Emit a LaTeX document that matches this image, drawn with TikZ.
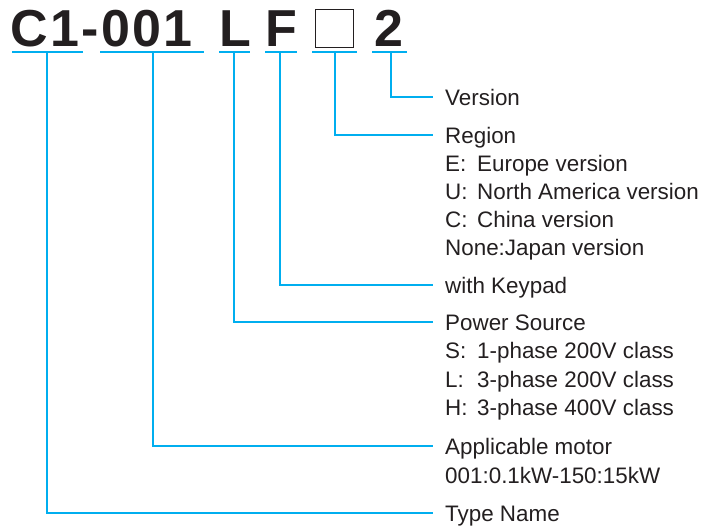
\documentclass[tikz,border=0pt]{standalone}
\usepackage{fontspec}
\setmainfont{Liberation Sans}
\definecolor{ink}{HTML}{231F20}
\definecolor{cyanline}{HTML}{00AEEF}
\newcommand{\tag}[1]{\makebox[32pt][l]{#1}}
\begin{document}
\begin{tikzpicture}[x=1pt,y=-1pt,
  code/.style={anchor=base,inner sep=0pt,text=ink,font=\fontsize{52}{52}\selectfont\bfseries},
  head/.style={anchor=west,inner xsep=12pt,inner ysep=0pt,text height=16pt,text depth=0pt,text=ink,font=\fontsize{22.4}{26}\selectfont},
  item/.style={anchor=base west,inner sep=0pt,text=ink,font=\fontsize{22.4}{26}\selectfont},
  link/.style={draw=cyanline,line width=2pt}]
\useasboundingbox (0,0) rectangle (703,527);
% code letters
\node[code,anchor=base west] (c1) at (10.5,47) {\addfontfeature{LetterSpace=4.5}C1-001};
\node[code] (cL) at (235.5,47) {L};
\node[code] (cF) at (281.5,47) {F};
\draw[ink,line width=1.8pt] (315.5,9.5) rectangle (353.5,47.5);
\node[code] (c2) at (389,47) {2};
% underline ends
\coordinate (a1) at (12,52.5);  \coordinate (b1) at (83,52.5);
\coordinate (a2) at (100,52.5); \coordinate (b2) at (204,52.5);
\coordinate (a3) at (219,52.5); \coordinate (b3) at (250,52.5);
\coordinate (a4) at (265,52.5); \coordinate (b4) at (297,52.5);
\coordinate (a5) at (312,52.5); \coordinate (b5) at (357,52.5);
\coordinate (a6) at (372,52.5); \coordinate (b6) at (407,52.5);
\coordinate (m1) at (47,52.5);
\coordinate (m2) at (153,52.5);
\coordinate (m3) at (234,52.5);
\coordinate (m4) at (280,52.5);
\coordinate (m5) at (335,52.5);
\coordinate (m6) at (391,52.5);
\foreach \i in {1,...,6} {\draw[link] (a\i) -- (b\i);}
% labels
\node[head] (ver) at (433,97) {Version};
\node[head] (reg) at (433,135) {Region};
\node[item] (regE) at (445,171) {\tag{E:}Europe version};
\node[item] (regU) at (445,199) {\tag{U:}North America version};
\node[item] (regC) at (445,227) {\tag{C:}China version};
\node[item] (regN) at (445,255) {None:Japan version};
\node[head] (key) at (433,285) {with Keypad};
\node[head] (pow) at (433,322) {Power Source};
\node[item] (powS) at (445,358) {\tag{S:}1-phase 200V class};
\node[item] (powL) at (445,387) {\tag{L:}3-phase 200V class};
\node[item] (powH) at (445,415) {\tag{H:}3-phase 400V class};
\node[head] (mot) at (433,446) {Applicable motor};
\node[item] (motR) at (445,483) {001:0.1kW-150:15kW};
\node[head] (typ) at (433,513) {Type Name};
% connectors
\draw[link] (m6) |- (ver.west);
\draw[link] (m5) |- (reg.west);
\draw[link] (m4) |- (key.west);
\draw[link] (m3) |- (pow.west);
\draw[link] (m2) |- (mot.west);
\draw[link] (m1) |- (typ.west);
\end{tikzpicture}
\end{document}
